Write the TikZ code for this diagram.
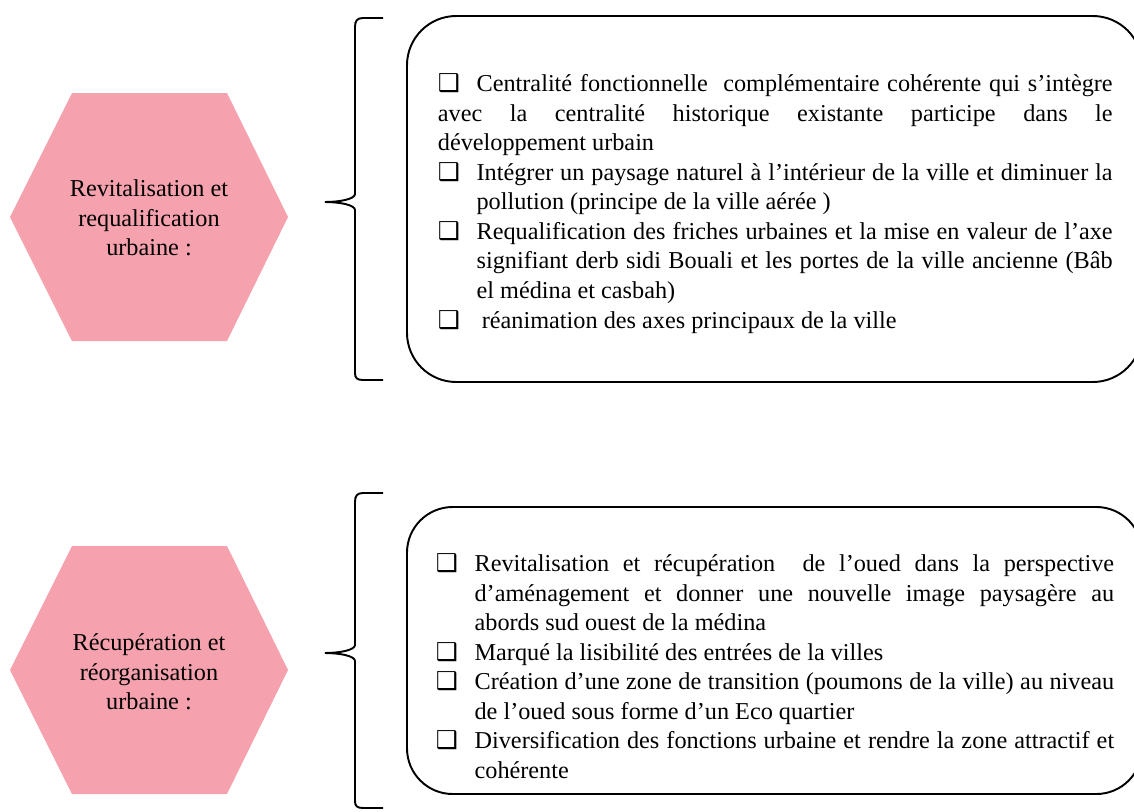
\documentclass[tikz,border=0pt]{standalone}
\usepackage{fontspec}
\setmainfont{Liberation Serif}
\newfontfamily\serif{Liberation Serif}
\newfontfamily\symfont{DejaVu Sans}
\definecolor{hexpink}{RGB}{245,162,174}
\newcommand\chk{{\symfont\fontsize{14}{14}\selectfont ❑}}
\newcommand\itm{\par\hangindent=22pt\hangafter=1\noindent\makebox[22pt][l]{\chk}}

\begin{document}
\begin{tikzpicture}[x=0.02cm,y=-0.02cm,line width=1.1pt,font=\serif\fontsize{13.8}{16.8}\selectfont]
  \useasboundingbox (0,0) rectangle (1134,812);
  % hexagones
  \foreach \c in {217,670} \fill[hexpink] (10,\c) -- (72,\c-124) -- (227,\c-124) -- (288,\c) -- (227,\c+124) -- (72,\c+124) -- cycle;
  \node[align=center] (hexA) at (149,218) {Revitalisation et\\requalification\\urbaine :};
  \node[align=center] (hexB) at (149,672) {Récupération et\\réorganisation\\urbaine :};
  % accolades
  \draw (383,18) -- (363,18) .. controls (357,18) and (355,21) .. (355,27) -- (355,194) .. controls (355,199) and (340,202) .. (325,202) .. controls (340,202) and (355,205) .. (355,210) -- (355,373) .. controls (355,378) and (357,380) .. (363,380) -- (383,380);
  \draw (383,493) -- (363,493) .. controls (357,493) and (355,496) .. (355,502) -- (355,645) .. controls (355,650) and (340,653) .. (325,653) .. controls (340,653) and (355,656) .. (355,661) -- (355,801) .. controls (355,806) and (357,808) .. (363,808) -- (383,808);
  % cadres
  \draw[rounded corners=28pt] (407,16) rectangle (1142,382);
  \draw[rounded corners=26pt] (407,507) rectangle (1142,794);
  \node[anchor=north west,inner sep=0,text width=384pt,align=justify] (listA) at (437,73) {%
    \noindent\makebox[22pt][l]{\chk}Centralité fonctionnelle\ \ complémentaire cohérente qui s’intègre\linebreak
    avec la centralité historique existante participe dans le\linebreak
    développement urbain
    \itm Intégrer un paysage naturel à l’intérieur de la ville et diminuer la\linebreak
    pollution (principe de la ville aérée )
    \itm Requalification des friches urbaines et la mise en valeur de l’axe\linebreak
    signifiant derb sidi Bouali et les portes de la ville ancienne (Bâb\linebreak
    el médina et casbah)
    \itm\hspace{3pt}réanimation des axes principaux de la ville\par};
  \node[anchor=north west,inner sep=0,text width=386pt,align=justify] (listB) at (435,541) {%
    \itm Revitalisation et récupération\ \ de l’oued dans la perspective\linebreak
    d’aménagement et donner une nouvelle image paysagère au\linebreak
    abords sud ouest de la médina
    \itm Marqué la lisibilité des entrées de la villes
    \itm Création d’une zone de transition (poumons de la ville) au niveau\linebreak
    de l’oued sous forme d’un Eco quartier
    \itm Diversification des fonctions urbaine et rendre la zone attractif et\linebreak
    cohérente\par};
\end{tikzpicture}
\end{document}
